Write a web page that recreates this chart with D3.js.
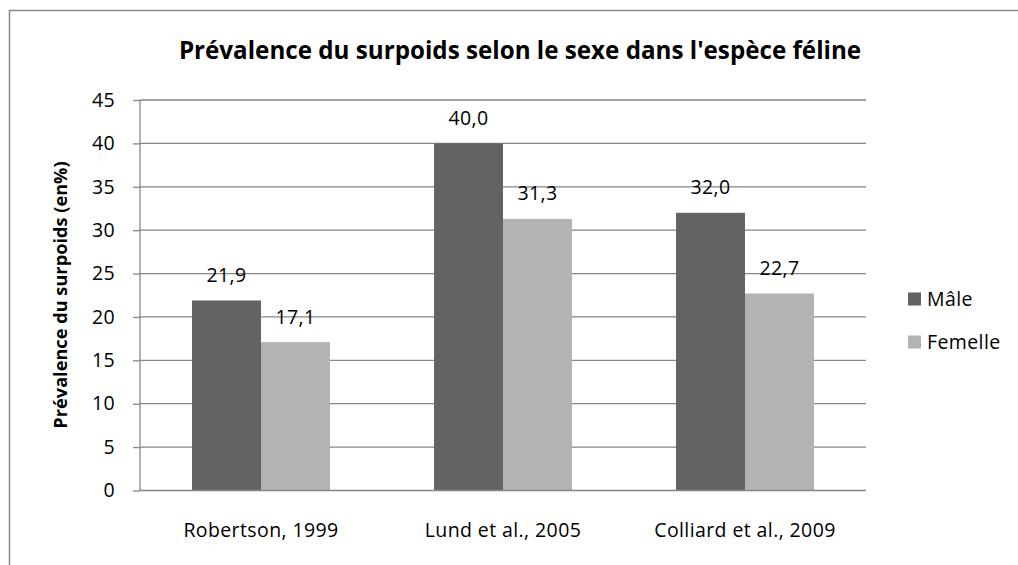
<!DOCTYPE html>
<html><head><meta charset="utf-8">
<script src="https://cdn.jsdelivr.net/npm/d3@7"></script>
<style>body{margin:0;background:#fff;} text{font-family:"Open Sans",sans-serif;}</style>
</head><body>
<svg id="c" width="1018" height="565"></svg>
<script>
const categories = ["Robertson, 1999", "Lund et al., 2005", "Colliard et al., 2009"];
const seriesNames = ["Mâle", "Femelle"];
const maleValues = [21.9, 40.0, 32.0];
const femaleValues = [17.1, 31.3, 22.7];
const yTicks = [0, 5, 10, 15, 20, 25, 30, 35, 40, 45];
const colors = ["#636363", "#b3b3b3"];

(function () {
const FONT = "Open Sans";
const FS = 19.5, LS = 0.4;
const svg = d3.select("#c");
svg.append("rect").attr("x", 9.5).attr("y", 10.5).attr("width", 1020).attr("height", 570)
  .attr("fill", "#fff").attr("stroke", "#888").attr("stroke-width", 1.5);

const pLeft = 140, pRight = 866, pTop = 100, pBottom = 490.5;
const x = d3.scaleBand().domain(categories).range([pLeft, pRight]).paddingInner(0.43).paddingOuter(0.215);
const xs = d3.scaleBand().domain(seriesNames).range([0, x.bandwidth()]);
const y = d3.scaleLinear().domain([0, 45]).range([pBottom, pTop]);

svg.append("g").selectAll("line").data(yTicks.filter(d => d > 0)).join("line")
  .attr("x1", pLeft).attr("x2", pRight).attr("y1", d => y(d)).attr("y2", d => y(d))
  .attr("stroke", "#868686").attr("stroke-width", 1.3);

const yAxis = svg.append("g").attr("transform", `translate(${pLeft},0)`)
  .call(d3.axisLeft(y).tickValues(yTicks).tickSize(7).tickPadding(18));
yAxis.select(".domain").attr("stroke", "#868686").attr("stroke-width", 1.3).attr("d", `M-0,${pTop}V${pBottom}`);
yAxis.selectAll(".tick line").attr("stroke", "#868686").attr("stroke-width", 1.3);
yAxis.selectAll(".tick text").attr("font-size", FS).attr("letter-spacing", LS).attr("fill", "#000").style("font-family", FONT);

const data = categories.map((c, i) => ({cat: c, vals: [maleValues[i], femaleValues[i]]}));
const g = svg.append("g");
data.forEach(d => {
  d.vals.forEach((v, j) => {
    const bx = x(d.cat) + xs(seriesNames[j]);
    g.append("rect").attr("x", bx).attr("y", y(v)).attr("width", xs.bandwidth()).attr("height", y(0) - y(v))
      .attr("fill", colors[j]);
    g.append("text").attr("x", bx + xs.bandwidth() / 2).attr("y", y(v) - 18.5)
      .attr("text-anchor", "middle").attr("font-size", FS).attr("letter-spacing", LS).attr("fill", "#000")
      .text(v.toFixed(1).replace(".", ","));
  });
});

svg.append("line").attr("x1", pLeft).attr("x2", pRight).attr("y1", pBottom).attr("y2", pBottom)
  .attr("stroke", "#868686").attr("stroke-width", 1.5);
const xAxis = svg.append("g").attr("transform", `translate(0,${pBottom})`)
  .call(d3.axisBottom(x).tickSize(0).tickPadding(0));
xAxis.select(".domain").remove();
xAxis.selectAll(".tick text").attr("dy", null).attr("y", 46.5).attr("font-size", FS).attr("letter-spacing", LS)
  .attr("fill", "#000").style("font-family", FONT);

svg.append("text").attr("x", 520).attr("y", 59).attr("text-anchor", "middle")
  .attr("font-size", 24.2).attr("font-weight", "bold").attr("fill", "#000")
  .text("Prévalence du surpoids selon le sexe dans l'espèce féline");

svg.append("text").attr("transform", "translate(67,295) rotate(-90)").attr("text-anchor", "middle")
  .attr("font-size", 18.2).attr("font-weight", "bold").attr("fill", "#000")
  .text("Prévalence du surpoids (en%)");

const leg = svg.append("g");
seriesNames.forEach((s, i) => {
  const ly = 299 + i * 43;
  leg.append("rect").attr("x", 908).attr("y", ly - 6.5).attr("width", 13).attr("height", 13).attr("fill", colors[i]);
  leg.append("text").attr("x", 927).attr("y", ly + 6.5).attr("font-size", FS).attr("letter-spacing", LS)
    .attr("fill", "#000").text(s);
});
})();
</script>
</body></html>
